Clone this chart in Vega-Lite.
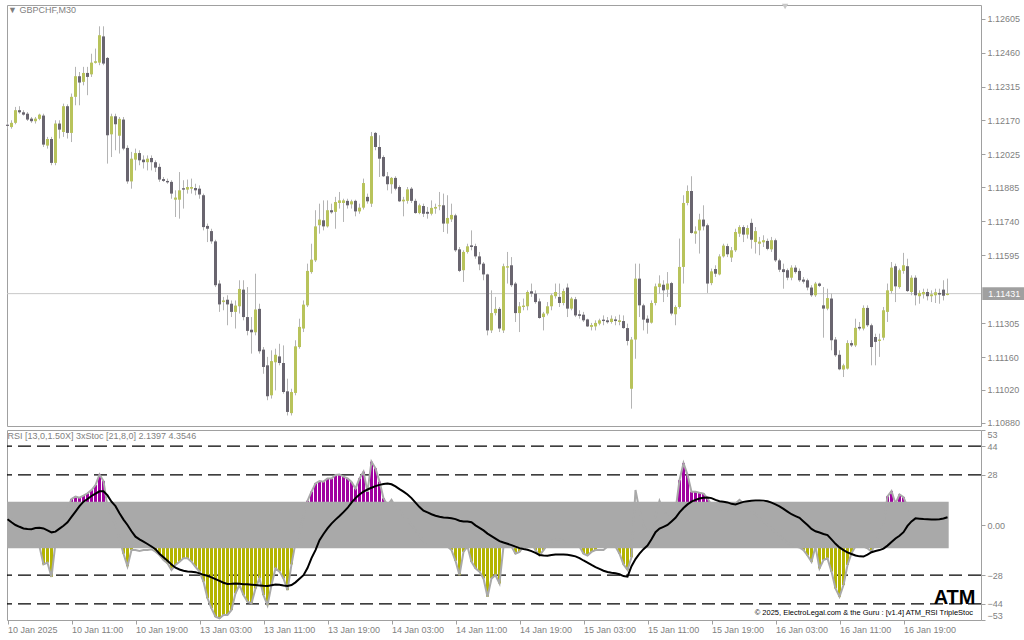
{
"$schema": "https://vega.github.io/schema/vega-lite/v6.json",
"background": "white",
"padding": {"left": 3, "top": 3, "right": 0, "bottom": 0},
"bounds": "flush",
"spacing": 4,
"config": {
  "view": {"stroke": "#a0a0a0", "strokeWidth": 1},
  "font": "Liberation Sans",
  "axis": {"labelFont": "Liberation Sans", "labelFontSize": 9, "labelColor": "#7f7f7f", "tickColor": "#a0a0a0", "tickSize": 4, "domain": false, "grid": false, "title": null, "labelPadding": 2, "labelOverlap": false, "labelSeparation": 0, "tickCount": 40},
  "title": {"font": "Liberation Sans", "fontSize": 9, "fontWeight": "normal", "color": "#7f7f7f", "anchor": "start", "orient": "top"}
},
"datasets": {"b": [
{"i":0,"o":1.12152,"h":1.12164,"l":1.12135,"c":1.12147,"r":5,"k":"n","s":3.2},
{"i":1,"o":1.12142,"h":1.12171,"l":1.12135,"c":1.12160,"r":3,"k":"n","s":1.5},
{"i":2,"o":1.12160,"h":1.12228,"l":1.12154,"c":1.12214,"r":0,"k":"n","s":0},
{"i":3,"o":1.12214,"h":1.12231,"l":1.12199,"c":1.12205,"r":-2,"k":"n","s":-1},
{"i":4,"o":1.12205,"h":1.12214,"l":1.12191,"c":1.12195,"r":-4,"k":"n","s":-1.9},
{"i":5,"o":1.12199,"h":1.12206,"l":1.12168,"c":1.12174,"r":-6,"k":"n","s":-2.2},
{"i":6,"o":1.12178,"h":1.12185,"l":1.12160,"c":1.12167,"r":-9,"k":"n","s":-2.4},
{"i":7,"o":1.12167,"h":1.12185,"l":1.12157,"c":1.12178,"r":-11,"k":"n","s":-1.7},
{"i":8,"o":1.12177,"h":1.12199,"l":1.12171,"c":1.12195,"r":-12,"k":"n","s":-1.6},
{"i":9,"o":1.12191,"h":1.12199,"l":1.12057,"c":1.12067,"r":-22,"k":"d","s":-1.9},
{"i":10,"o":1.12063,"h":1.12100,"l":1.12050,"c":1.12091,"r":-21,"k":"d","s":-3},
{"i":11,"o":1.12091,"h":1.12100,"l":1.11979,"c":1.11989,"r":-29,"k":"d","s":-4.1},
{"i":12,"o":1.11989,"h":1.12171,"l":1.11979,"c":1.12157,"r":-10,"k":"n","s":-3.7},
{"i":13,"o":1.12157,"h":1.12171,"l":1.12093,"c":1.12131,"r":-5,"k":"n","s":-2},
{"i":14,"o":1.12121,"h":1.12242,"l":1.12100,"c":1.12231,"r":2,"k":"n","s":-0.4},
{"i":15,"o":1.12231,"h":1.12239,"l":1.12093,"c":1.12117,"r":9,"k":"n","s":1.5},
{"i":16,"o":1.12117,"h":1.12285,"l":1.12078,"c":1.12271,"r":14.5,"k":"u","s":4.5},
{"i":17,"o":1.12271,"h":1.12399,"l":1.12235,"c":1.12359,"r":15.8,"k":"u","s":7.5},
{"i":18,"o":1.12359,"h":1.12377,"l":1.12235,"c":1.12332,"r":15.2,"k":"u","s":10.5},
{"i":19,"o":1.12335,"h":1.12399,"l":1.12320,"c":1.12373,"r":16.4,"k":"u","s":13},
{"i":20,"o":1.12373,"h":1.12399,"l":1.12278,"c":1.12356,"r":17.7,"k":"u","s":14.5},
{"i":21,"o":1.12367,"h":1.12455,"l":1.12356,"c":1.12417,"r":19.5,"k":"u","s":16.2},
{"i":22,"o":1.12416,"h":1.12477,"l":1.12413,"c":1.12423,"r":22.3,"k":"u","s":17.5},
{"i":23,"o":1.12417,"h":1.12572,"l":1.12406,"c":1.12534,"r":28.2,"k":"u","s":18.8},
{"i":24,"o":1.12529,"h":1.12572,"l":1.12406,"c":1.12413,"r":24.5,"k":"u","s":18.8},
{"i":25,"o":1.12437,"h":1.12441,"l":1.11986,"c":1.12107,"r":10,"k":"n","s":16.5},
{"i":26,"o":1.12111,"h":1.12199,"l":1.12014,"c":1.12188,"r":5,"k":"n","s":13},
{"i":27,"o":1.12188,"h":1.12199,"l":1.12043,"c":1.12154,"r":0,"k":"n","s":10.5},
{"i":28,"o":1.12105,"h":1.12185,"l":1.12029,"c":1.12177,"r":-8,"k":"n","s":6.5},
{"i":29,"o":1.12174,"h":1.12185,"l":1.12043,"c":1.12050,"r":-16,"k":"d","s":3},
{"i":30,"o":1.12053,"h":1.12064,"l":1.11900,"c":1.11910,"r":-23,"k":"d","s":0},
{"i":31,"o":1.11910,"h":1.12036,"l":1.11879,"c":1.12007,"r":-14,"k":"d","s":-3.5},
{"i":32,"o":1.12003,"h":1.12050,"l":1.11957,"c":1.12031,"r":-14,"k":"n","s":-6.5},
{"i":33,"o":1.12031,"h":1.12043,"l":1.11979,"c":1.12000,"r":-14.5,"k":"n","s":-8},
{"i":34,"o":1.12003,"h":1.12021,"l":1.11965,"c":1.11992,"r":-14,"k":"n","s":-9.3},
{"i":35,"o":1.11992,"h":1.12021,"l":1.11957,"c":1.12007,"r":-14,"k":"n","s":-10.6},
{"i":36,"o":1.12010,"h":1.12021,"l":1.11957,"c":1.11992,"r":-13.5,"k":"n","s":-12},
{"i":37,"o":1.11992,"h":1.12000,"l":1.11950,"c":1.11969,"r":-14.9,"k":"d","s":-13.5},
{"i":38,"o":1.11972,"h":1.11986,"l":1.11908,"c":1.11918,"r":-16.8,"k":"d","s":-16},
{"i":39,"o":1.11920,"h":1.11929,"l":1.11908,"c":1.11912,"r":-19.5,"k":"d","s":-18},
{"i":40,"o":1.11912,"h":1.11922,"l":1.11900,"c":1.11906,"r":-21.4,"k":"d","s":-20},
{"i":41,"o":1.11908,"h":1.11915,"l":1.11836,"c":1.11858,"r":-25.1,"k":"d","s":-22},
{"i":42,"o":1.11832,"h":1.11872,"l":1.11758,"c":1.11841,"r":-22.3,"k":"d","s":-23.8},
{"i":43,"o":1.11832,"h":1.11950,"l":1.11751,"c":1.11872,"r":-20.5,"k":"d","s":-24.8},
{"i":44,"o":1.11881,"h":1.11915,"l":1.11794,"c":1.11875,"r":-18.6,"k":"d","s":-25.5},
{"i":45,"o":1.11875,"h":1.11918,"l":1.11858,"c":1.11886,"r":-18.6,"k":"d","s":-25.9},
{"i":46,"o":1.11879,"h":1.11922,"l":1.11858,"c":1.11886,"r":-20.5,"k":"d","s":-26.1},
{"i":47,"o":1.11882,"h":1.11900,"l":1.11851,"c":1.11872,"r":-23.3,"k":"d","s":-26.3},
{"i":48,"o":1.11879,"h":1.11893,"l":1.11836,"c":1.11854,"r":-26,"k":"d","s":-27},
{"i":49,"o":1.11851,"h":1.11858,"l":1.11701,"c":1.11715,"r":-31.6,"k":"d","s":-27.8},
{"i":50,"o":1.11720,"h":1.11730,"l":1.11651,"c":1.11708,"r":-40.9,"k":"d","s":-28.3},
{"i":51,"o":1.11698,"h":1.11708,"l":1.11644,"c":1.11654,"r":-46.5,"k":"d","s":-29.2},
{"i":52,"o":1.11654,"h":1.11661,"l":1.11459,"c":1.11467,"r":-51.2,"k":"d","s":-30.2},
{"i":53,"o":1.11474,"h":1.11488,"l":1.11353,"c":1.11385,"r":-52.1,"k":"d","s":-31.2},
{"i":54,"o":1.11395,"h":1.11417,"l":1.11360,"c":1.11402,"r":-50.2,"k":"d","s":-32.2},
{"i":55,"o":1.11405,"h":1.11424,"l":1.11296,"c":1.11385,"r":-50.2,"k":"d","s":-32.9},
{"i":56,"o":1.11388,"h":1.11402,"l":1.11331,"c":1.11353,"r":-47.4,"k":"d","s":-32.8},
{"i":57,"o":1.11353,"h":1.11402,"l":1.11282,"c":1.11380,"r":-38.1,"k":"d","s":-32.6},
{"i":58,"o":1.11377,"h":1.11488,"l":1.11346,"c":1.11451,"r":-33.5,"k":"d","s":-32.8},
{"i":59,"o":1.11448,"h":1.11488,"l":1.11317,"c":1.11331,"r":-39.1,"k":"d","s":-33},
{"i":60,"o":1.11331,"h":1.11459,"l":1.11253,"c":1.11272,"r":-42.8,"k":"d","s":-33.1},
{"i":61,"o":1.11277,"h":1.11331,"l":1.11175,"c":1.11266,"r":-43.7,"k":"d","s":-33.3},
{"i":62,"o":1.11266,"h":1.11516,"l":1.11253,"c":1.11363,"r":-35.4,"k":"d","s":-33.5},
{"i":63,"o":1.11366,"h":1.11388,"l":1.11175,"c":1.11185,"r":-29.8,"k":"d","s":-33.7},
{"i":64,"o":1.11192,"h":1.11203,"l":1.11089,"c":1.11118,"r":-39.1,"k":"d","s":-33.9},
{"i":65,"o":1.11125,"h":1.11161,"l":1.10976,"c":1.10993,"r":-44.7,"k":"d","s":-34},
{"i":66,"o":1.10997,"h":1.11189,"l":1.10983,"c":1.11143,"r":-33.5,"k":"d","s":-33.6},
{"i":67,"o":1.11138,"h":1.11196,"l":1.11018,"c":1.11170,"r":-24.2,"k":"d","s":-33.2},
{"i":68,"o":1.11163,"h":1.11217,"l":1.11125,"c":1.11135,"r":-26,"k":"d","s":-33.3},
{"i":69,"o":1.11135,"h":1.11210,"l":1.11004,"c":1.11011,"r":-29.8,"k":"d","s":-33.7},
{"i":70,"o":1.11014,"h":1.11068,"l":1.10911,"c":1.10926,"r":-36.3,"k":"d","s":-34},
{"i":71,"o":1.10921,"h":1.11025,"l":1.10911,"c":1.11011,"r":-22,"k":"d","s":-33.5},
{"i":72,"o":1.11007,"h":1.11232,"l":1.10997,"c":1.11206,"r":-10,"k":"n","s":-32},
{"i":73,"o":1.11203,"h":1.11324,"l":1.11196,"c":1.11289,"r":-5,"k":"n","s":-30},
{"i":74,"o":1.11282,"h":1.11402,"l":1.11267,"c":1.11384,"r":5,"k":"n","s":-28},
{"i":75,"o":1.11381,"h":1.11559,"l":1.11374,"c":1.11528,"r":13.5,"k":"u","s":-24},
{"i":76,"o":1.11523,"h":1.11644,"l":1.11516,"c":1.11576,"r":18.6,"k":"u","s":-18.5},
{"i":77,"o":1.11573,"h":1.11787,"l":1.11566,"c":1.11718,"r":23.2,"k":"u","s":-14},
{"i":78,"o":1.11723,"h":1.11815,"l":1.11687,"c":1.11747,"r":24.5,"k":"u","s":-8.5},
{"i":79,"o":1.11744,"h":1.11829,"l":1.11701,"c":1.11718,"r":24.2,"k":"u","s":-5},
{"i":80,"o":1.11718,"h":1.11829,"l":1.11713,"c":1.11787,"r":26,"k":"u","s":-1.9},
{"i":81,"o":1.11787,"h":1.11815,"l":1.11772,"c":1.11778,"r":26,"k":"u","s":0.8},
{"i":82,"o":1.11780,"h":1.11844,"l":1.11708,"c":1.11822,"r":27.9,"k":"u","s":3},
{"i":83,"o":1.11818,"h":1.11865,"l":1.11794,"c":1.11829,"r":28.2,"k":"u","s":5},
{"i":84,"o":1.11818,"h":1.11836,"l":1.11737,"c":1.11829,"r":27,"k":"u","s":7.2},
{"i":85,"o":1.11827,"h":1.11836,"l":1.11794,"c":1.11808,"r":26,"k":"u","s":9.5},
{"i":86,"o":1.11812,"h":1.11832,"l":1.11794,"c":1.11825,"r":24,"k":"u","s":12.5},
{"i":87,"o":1.11827,"h":1.11832,"l":1.11761,"c":1.11782,"r":20.4,"k":"u","s":15},
{"i":88,"o":1.11782,"h":1.11815,"l":1.11772,"c":1.11798,"r":26,"k":"u","s":17},
{"i":89,"o":1.11798,"h":1.11922,"l":1.11790,"c":1.11903,"r":29.7,"k":"u","s":18.6},
{"i":90,"o":1.11844,"h":1.11858,"l":1.11815,"c":1.11825,"r":18.6,"k":"u","s":19.8},
{"i":91,"o":1.11815,"h":1.12121,"l":1.11801,"c":1.12103,"r":35.3,"k":"u","s":20.8},
{"i":92,"o":1.12117,"h":1.12121,"l":1.12043,"c":1.12057,"r":31.6,"k":"u","s":21.7},
{"i":93,"o":1.12057,"h":1.12107,"l":1.11929,"c":1.12007,"r":24.2,"k":"u","s":22.4},
{"i":94,"o":1.12014,"h":1.12021,"l":1.11929,"c":1.11932,"r":14.9,"k":"u","s":22.9},
{"i":95,"o":1.11932,"h":1.11950,"l":1.11872,"c":1.11898,"r":11,"k":"n","s":23.2},
{"i":96,"o":1.11898,"h":1.11929,"l":1.11858,"c":1.11925,"r":14,"k":"n","s":22.7},
{"i":97,"o":1.11925,"h":1.11932,"l":1.11872,"c":1.11879,"r":10,"k":"n","s":21.5},
{"i":98,"o":1.11886,"h":1.11893,"l":1.11822,"c":1.11825,"r":8,"k":"n","s":20},
{"i":99,"o":1.11825,"h":1.11844,"l":1.11761,"c":1.11832,"r":5,"k":"n","s":18.6},
{"i":100,"o":1.11827,"h":1.11886,"l":1.11815,"c":1.11876,"r":3,"k":"n","s":17},
{"i":101,"o":1.11879,"h":1.11886,"l":1.11818,"c":1.11827,"r":0,"k":"n","s":15},
{"i":102,"o":1.11827,"h":1.11836,"l":1.11772,"c":1.11775,"r":-3,"k":"n","s":12.5},
{"i":103,"o":1.11775,"h":1.11815,"l":1.11770,"c":1.11808,"r":-6,"k":"n","s":10},
{"i":104,"o":1.11805,"h":1.11815,"l":1.11758,"c":1.11772,"r":-9,"k":"n","s":8},
{"i":105,"o":1.11780,"h":1.11801,"l":1.11751,"c":1.11772,"r":-10,"k":"n","s":7},
{"i":106,"o":1.11772,"h":1.11829,"l":1.11765,"c":1.11797,"r":-10,"k":"n","s":6},
{"i":107,"o":1.11794,"h":1.11815,"l":1.11772,"c":1.11801,"r":-10,"k":"n","s":5.2},
{"i":108,"o":1.11804,"h":1.11865,"l":1.11787,"c":1.11808,"r":-10,"k":"n","s":4.6},
{"i":109,"o":1.11808,"h":1.11858,"l":1.11694,"c":1.11730,"r":-11,"k":"n","s":4.2},
{"i":110,"o":1.11730,"h":1.11851,"l":1.11687,"c":1.11754,"r":-12,"k":"n","s":4},
{"i":111,"o":1.11748,"h":1.11815,"l":1.11737,"c":1.11767,"r":-14,"k":"d","s":3.8},
{"i":112,"o":1.11765,"h":1.11772,"l":1.11609,"c":1.11616,"r":-20,"k":"d","s":3.3},
{"i":113,"o":1.11620,"h":1.11630,"l":1.11523,"c":1.11528,"r":-28,"k":"d","s":2.4},
{"i":114,"o":1.11531,"h":1.11616,"l":1.11481,"c":1.11609,"r":-15,"k":"d","s":2},
{"i":115,"o":1.11609,"h":1.11644,"l":1.11602,"c":1.11633,"r":-12,"k":"n","s":1.9},
{"i":116,"o":1.11637,"h":1.11701,"l":1.11616,"c":1.11630,"r":-20.5,"k":"d","s":1.5},
{"i":117,"o":1.11634,"h":1.11644,"l":1.11580,"c":1.11590,"r":-24.2,"k":"d","s":-0.2},
{"i":118,"o":1.11590,"h":1.11609,"l":1.11531,"c":1.11556,"r":-26,"k":"d","s":-1.6},
{"i":119,"o":1.11559,"h":1.11566,"l":1.11488,"c":1.11513,"r":-29.8,"k":"d","s":-3},
{"i":120,"o":1.11513,"h":1.11516,"l":1.11253,"c":1.11274,"r":-40,"k":"d","s":-4.8},
{"i":121,"o":1.11274,"h":1.11445,"l":1.11263,"c":1.11348,"r":-29.8,"k":"d","s":-6.2},
{"i":122,"o":1.11348,"h":1.11417,"l":1.11338,"c":1.11366,"r":-28,"k":"d","s":-7.6},
{"i":123,"o":1.11366,"h":1.11374,"l":1.11267,"c":1.11282,"r":-32.6,"k":"d","s":-9},
{"i":124,"o":1.11274,"h":1.11559,"l":1.11263,"c":1.11548,"r":-12,"k":"n","s":-9.8},
{"i":125,"o":1.11542,"h":1.11609,"l":1.11474,"c":1.11548,"r":-10,"k":"n","s":-10.5},
{"i":126,"o":1.11552,"h":1.11587,"l":1.11459,"c":1.11467,"r":-12,"k":"n","s":-11.2},
{"i":127,"o":1.11474,"h":1.11481,"l":1.11310,"c":1.11348,"r":-16,"k":"d","s":-12.1},
{"i":128,"o":1.11348,"h":1.11395,"l":1.11267,"c":1.11377,"r":-15,"k":"d","s":-12.9},
{"i":129,"o":1.11374,"h":1.11410,"l":1.11360,"c":1.11380,"r":-12,"k":"n","s":-13.4},
{"i":130,"o":1.11377,"h":1.11445,"l":1.11360,"c":1.11438,"r":-10,"k":"n","s":-13.8},
{"i":131,"o":1.11441,"h":1.11474,"l":1.11417,"c":1.11431,"r":-10,"k":"n","s":-14.6},
{"i":132,"o":1.11431,"h":1.11445,"l":1.11388,"c":1.11395,"r":-14,"k":"d","s":-15.6},
{"i":133,"o":1.11398,"h":1.11410,"l":1.11324,"c":1.11327,"r":-17,"k":"d","s":-16.7},
{"i":134,"o":1.11331,"h":1.11353,"l":1.11274,"c":1.11346,"r":-14,"k":"d","s":-17},
{"i":135,"o":1.11346,"h":1.11395,"l":1.11338,"c":1.11377,"r":-11,"k":"n","s":-17.1},
{"i":136,"o":1.11377,"h":1.11431,"l":1.11360,"c":1.11424,"r":-9,"k":"n","s":-16.8},
{"i":137,"o":1.11420,"h":1.11474,"l":1.11410,"c":1.11438,"r":-8,"k":"n","s":-16.5},
{"i":138,"o":1.11417,"h":1.11474,"l":1.11374,"c":1.11391,"r":-8,"k":"n","s":-16.4},
{"i":139,"o":1.11391,"h":1.11452,"l":1.11381,"c":1.11442,"r":-9,"k":"n","s":-16.4},
{"i":140,"o":1.11457,"h":1.11474,"l":1.11331,"c":1.11367,"r":-10,"k":"n","s":-16.6},
{"i":141,"o":1.11367,"h":1.11417,"l":1.11360,"c":1.11410,"r":-10,"k":"n","s":-17},
{"i":142,"o":1.11407,"h":1.11417,"l":1.11331,"c":1.11338,"r":-11,"k":"n","s":-17.5},
{"i":143,"o":1.11343,"h":1.11360,"l":1.11324,"c":1.11336,"r":-12,"k":"n","s":-18.5},
{"i":144,"o":1.11341,"h":1.11353,"l":1.11310,"c":1.11317,"r":-16,"k":"d","s":-19.8},
{"i":145,"o":1.11321,"h":1.11324,"l":1.11289,"c":1.11291,"r":-17,"k":"d","s":-21},
{"i":146,"o":1.11289,"h":1.11306,"l":1.11274,"c":1.11297,"r":-15,"k":"d","s":-22.3},
{"i":147,"o":1.11291,"h":1.11317,"l":1.11274,"c":1.11306,"r":-14,"k":"d","s":-23.5},
{"i":148,"o":1.11303,"h":1.11324,"l":1.11296,"c":1.11317,"r":-14,"k":"n","s":-24.5},
{"i":149,"o":1.11320,"h":1.11338,"l":1.11296,"c":1.11314,"r":-14,"k":"n","s":-25.5},
{"i":150,"o":1.11317,"h":1.11331,"l":1.11303,"c":1.11309,"r":-12,"k":"n","s":-26.2},
{"i":151,"o":1.11310,"h":1.11338,"l":1.11303,"c":1.11324,"r":-11,"k":"n","s":-26.6},
{"i":152,"o":1.11321,"h":1.11334,"l":1.11296,"c":1.11314,"r":-12,"k":"n","s":-26.9},
{"i":153,"o":1.11310,"h":1.11341,"l":1.11296,"c":1.11317,"r":-16,"k":"d","s":-27.5},
{"i":154,"o":1.11314,"h":1.11338,"l":1.11281,"c":1.11284,"r":-22,"k":"d","s":-28.5},
{"i":155,"o":1.11284,"h":1.11303,"l":1.11210,"c":1.11229,"r":-25,"k":"d","s":-28.8},
{"i":156,"o":1.11025,"h":1.11246,"l":1.10940,"c":1.11235,"r":-18,"k":"d","s":-23},
{"i":157,"o":1.11235,"h":1.11559,"l":1.11153,"c":1.11495,"r":19.5,"k":"n","s":-19},
{"i":158,"o":1.11495,"h":1.11559,"l":1.11331,"c":1.11381,"r":8,"k":"n","s":-16},
{"i":159,"o":1.11381,"h":1.11388,"l":1.11274,"c":1.11320,"r":0,"k":"n","s":-13.5},
{"i":160,"o":1.11324,"h":1.11338,"l":1.11260,"c":1.11307,"r":-5,"k":"n","s":-11.5},
{"i":161,"o":1.11307,"h":1.11402,"l":1.11303,"c":1.11391,"r":-2,"k":"n","s":-8},
{"i":162,"o":1.11391,"h":1.11474,"l":1.11381,"c":1.11462,"r":5,"k":"n","s":-4},
{"i":163,"o":1.11459,"h":1.11509,"l":1.11431,"c":1.11474,"r":13.4,"k":"n","s":-2},
{"i":164,"o":1.11469,"h":1.11488,"l":1.11395,"c":1.11445,"r":8,"k":"n","s":-1},
{"i":165,"o":1.11448,"h":1.11523,"l":1.11417,"c":1.11474,"r":5,"k":"n","s":0},
{"i":166,"o":1.11476,"h":1.11481,"l":1.11338,"c":1.11346,"r":3,"k":"n","s":2},
{"i":167,"o":1.11343,"h":1.11381,"l":1.11296,"c":1.11374,"r":8,"k":"n","s":4},
{"i":168,"o":1.11374,"h":1.11666,"l":1.11367,"c":1.11545,"r":25,"k":"u","s":7},
{"i":169,"o":1.11545,"h":1.11851,"l":1.11474,"c":1.11818,"r":34.5,"k":"u","s":9.5},
{"i":170,"o":1.11818,"h":1.11893,"l":1.11808,"c":1.11869,"r":28,"k":"u","s":11.5},
{"i":171,"o":1.11869,"h":1.11932,"l":1.11687,"c":1.11690,"r":18.6,"k":"u","s":13},
{"i":172,"o":1.11687,"h":1.11718,"l":1.11644,"c":1.11697,"r":18.6,"k":"u","s":14},
{"i":173,"o":1.11701,"h":1.11772,"l":1.11602,"c":1.11747,"r":18,"k":"u","s":14.8},
{"i":174,"o":1.11747,"h":1.11808,"l":1.11701,"c":1.11718,"r":17.5,"k":"u","s":15.2},
{"i":175,"o":1.11723,"h":1.11730,"l":1.11434,"c":1.11474,"r":14.9,"k":"u","s":15.3},
{"i":176,"o":1.11476,"h":1.11538,"l":1.11467,"c":1.11526,"r":11,"k":"n","s":15},
{"i":177,"o":1.11536,"h":1.11552,"l":1.11502,"c":1.11516,"r":10,"k":"n","s":14},
{"i":178,"o":1.11513,"h":1.11599,"l":1.11509,"c":1.11590,"r":9,"k":"n","s":13.3},
{"i":179,"o":1.11590,"h":1.11644,"l":1.11585,"c":1.11636,"r":8,"k":"n","s":13},
{"i":180,"o":1.11634,"h":1.11644,"l":1.11587,"c":1.11599,"r":8,"k":"n","s":12.6},
{"i":181,"o":1.11585,"h":1.11630,"l":1.11566,"c":1.11616,"r":10,"k":"n","s":11.8},
{"i":182,"o":1.11616,"h":1.11708,"l":1.11609,"c":1.11694,"r":12,"k":"n","s":11.5},
{"i":183,"o":1.11687,"h":1.11723,"l":1.11673,"c":1.11715,"r":14,"k":"n","s":12.2},
{"i":184,"o":1.11715,"h":1.11723,"l":1.11651,"c":1.11683,"r":12,"k":"n","s":12.9},
{"i":185,"o":1.11683,"h":1.11723,"l":1.11666,"c":1.11711,"r":10,"k":"n","s":13.2},
{"i":186,"o":1.11733,"h":1.11751,"l":1.11623,"c":1.11661,"r":8,"k":"n","s":13.5},
{"i":187,"o":1.11651,"h":1.11715,"l":1.11602,"c":1.11698,"r":6,"k":"n","s":13.6},
{"i":188,"o":1.11644,"h":1.11673,"l":1.11595,"c":1.11653,"r":4,"k":"n","s":13.7},
{"i":189,"o":1.11650,"h":1.11680,"l":1.11630,"c":1.11659,"r":2,"k":"n","s":13.6},
{"i":190,"o":1.11656,"h":1.11666,"l":1.11616,"c":1.11622,"r":0,"k":"n","s":13.2},
{"i":191,"o":1.11620,"h":1.11673,"l":1.11609,"c":1.11659,"r":-2,"k":"n","s":12.5},
{"i":192,"o":1.11659,"h":1.11666,"l":1.11566,"c":1.11573,"r":-4,"k":"n","s":11.5},
{"i":193,"o":1.11573,"h":1.11580,"l":1.11523,"c":1.11533,"r":-6,"k":"n","s":10.4},
{"i":194,"o":1.11535,"h":1.11559,"l":1.11452,"c":1.11523,"r":-8,"k":"n","s":9},
{"i":195,"o":1.11531,"h":1.11538,"l":1.11488,"c":1.11499,"r":-10,"k":"n","s":7.5},
{"i":196,"o":1.11499,"h":1.11552,"l":1.11488,"c":1.11542,"r":-11,"k":"n","s":6},
{"i":197,"o":1.11542,"h":1.11552,"l":1.11516,"c":1.11523,"r":-12,"k":"n","s":5},
{"i":198,"o":1.11528,"h":1.11538,"l":1.11481,"c":1.11488,"r":-12.5,"k":"n","s":4},
{"i":199,"o":1.11491,"h":1.11502,"l":1.11474,"c":1.11482,"r":-14,"k":"d","s":2},
{"i":200,"o":1.11488,"h":1.11495,"l":1.11445,"c":1.11457,"r":-17,"k":"d","s":0},
{"i":201,"o":1.11457,"h":1.11467,"l":1.11417,"c":1.11424,"r":-20.5,"k":"d","s":-2.2},
{"i":202,"o":1.11424,"h":1.11481,"l":1.11417,"c":1.11474,"r":-12,"k":"n","s":-3.5},
{"i":203,"o":1.11474,"h":1.11478,"l":1.11459,"c":1.11464,"r":-24.2,"k":"d","s":-4.2},
{"i":204,"o":1.11381,"h":1.11459,"l":1.11243,"c":1.11367,"r":-19.5,"k":"d","s":-5},
{"i":205,"o":1.11367,"h":1.11452,"l":1.11360,"c":1.11412,"r":-18.6,"k":"d","s":-5.6},
{"i":206,"o":1.11410,"h":1.11431,"l":1.11189,"c":1.11232,"r":-26,"k":"d","s":-8},
{"i":207,"o":1.11235,"h":1.11246,"l":1.11161,"c":1.11168,"r":-35.4,"k":"d","s":-10.5},
{"i":208,"o":1.11170,"h":1.11189,"l":1.11104,"c":1.11108,"r":-40,"k":"d","s":-12.5},
{"i":209,"o":1.11107,"h":1.11132,"l":1.11075,"c":1.11125,"r":-33.5,"k":"d","s":-14},
{"i":210,"o":1.11111,"h":1.11232,"l":1.11107,"c":1.11220,"r":-22.3,"k":"d","s":-15.3},
{"i":211,"o":1.11220,"h":1.11232,"l":1.11203,"c":1.11210,"r":-15.8,"k":"d","s":-16.2},
{"i":212,"o":1.11210,"h":1.11324,"l":1.11203,"c":1.11285,"r":-12,"k":"n","s":-17},
{"i":213,"o":1.11289,"h":1.11310,"l":1.11274,"c":1.11282,"r":-11,"k":"n","s":-17.5},
{"i":214,"o":1.11282,"h":1.11381,"l":1.11274,"c":1.11370,"r":-12,"k":"n","s":-17.6},
{"i":215,"o":1.11370,"h":1.11381,"l":1.11289,"c":1.11296,"r":-13,"k":"n","s":-16.5},
{"i":216,"o":1.11296,"h":1.11303,"l":1.11125,"c":1.11203,"r":-15,"k":"d","s":-15.2},
{"i":217,"o":1.11246,"h":1.11260,"l":1.11125,"c":1.11225,"r":-10,"k":"n","s":-14.5},
{"i":218,"o":1.11229,"h":1.11260,"l":1.11161,"c":1.11235,"r":-5,"k":"n","s":-14},
{"i":219,"o":1.11243,"h":1.11374,"l":1.11232,"c":1.11360,"r":0,"k":"n","s":-13.2},
{"i":220,"o":1.11353,"h":1.11474,"l":1.11310,"c":1.11445,"r":16,"k":"u","s":-11.5},
{"i":221,"o":1.11442,"h":1.11566,"l":1.11431,"c":1.11542,"r":18.9,"k":"u","s":-9.5},
{"i":222,"o":1.11548,"h":1.11559,"l":1.11395,"c":1.11462,"r":12,"k":"n","s":-7.5},
{"i":223,"o":1.11459,"h":1.11538,"l":1.11452,"c":1.11531,"r":17,"k":"u","s":-6},
{"i":224,"o":1.11528,"h":1.11605,"l":1.11516,"c":1.11552,"r":15.5,"k":"u","s":-4},
{"i":225,"o":1.11548,"h":1.11580,"l":1.11438,"c":1.11442,"r":10,"k":"n","s":-0.5},
{"i":226,"o":1.11438,"h":1.11509,"l":1.11424,"c":1.11499,"r":6,"k":"n","s":2},
{"i":227,"o":1.11499,"h":1.11509,"l":1.11381,"c":1.11424,"r":4,"k":"n","s":3.7},
{"i":228,"o":1.11420,"h":1.11445,"l":1.11388,"c":1.11434,"r":4,"k":"n","s":3.5},
{"i":229,"o":1.11428,"h":1.11452,"l":1.11410,"c":1.11438,"r":3,"k":"n","s":3.3},
{"i":230,"o":1.11438,"h":1.11452,"l":1.11402,"c":1.11420,"r":3,"k":"n","s":3.2},
{"i":231,"o":1.11420,"h":1.11445,"l":1.11395,"c":1.11428,"r":3,"k":"n","s":3.1},
{"i":232,"o":1.11424,"h":1.11452,"l":1.11391,"c":1.11437,"r":3,"k":"n","s":3.1},
{"i":233,"o":1.11434,"h":1.11452,"l":1.11388,"c":1.11427,"r":3,"k":"n","s":3.2},
{"i":234,"o":1.11448,"h":1.11488,"l":1.11402,"c":1.11422,"r":4,"k":"n","s":3.6},
{"i":235,"o":1.11425,"h":1.11495,"l":1.11424,"c":1.11431,"r":4,"k":"n","s":4.3}
]},
"vconcat": [
{
  "width": 974, "height": 421,
  "title": {"text": "▼ GBPCHF,M30", "offset": -11, "dx": 2},
  "data": {"name": "b"},
  "layer": [
    {"data": {"values": [{"p": 1.11431}]},
     "mark": {"type": "rule", "color": "#c8c8c8", "strokeWidth": 1},
     "encoding": {"y": {"field": "p", "type": "quantitative",
        "scale": {"domain": [1.10866, 1.12663], "nice": false, "zero": false},
        "axis": {"orient": "right", "values": [1.12605, 1.1246, 1.12315, 1.1217, 1.12025, 1.11885, 1.1174, 1.11595, 1.11305, 1.1116, 1.1102, 1.1088], "format": ".5f", "labelOverlap": false, "tickCount": 40}}}},
    {"mark": {"type": "rule", "color": "#b4b4b4", "strokeWidth": 1},
     "encoding": {
       "x": {"field": "i", "type": "quantitative", "scale": {"domain": [-0.125, 243.375], "nice": false, "zero": false, "padding": 0}, "axis": null},
       "y": {"field": "l", "type": "quantitative"},
       "y2": {"field": "h"}}},
    {"mark": {"type": "bar", "size": 3},
     "encoding": {
       "x": {"field": "i", "type": "quantitative"},
       "y": {"field": "o", "type": "quantitative"},
       "y2": {"field": "c"},
       "color": {"condition": {"test": "datum.c >= datum.o", "value": "#b8c35b"}, "value": "#69656f"}}},
    {"data": {"values": [{}]},
     "mark": {"type": "point", "shape": "triangle-down", "filled": true, "size": 40, "color": "#c8c8c8", "opacity": 1},
     "encoding": {"x": {"datum": 194.4, "type": "quantitative"}, "y": {"datum": 1.12657, "type": "quantitative"}}},
    {"data": {"values": [{}]},
     "mark": {"type": "rect", "color": "#a0a0a0"},
     "encoding": {"x": {"datum": 243.7, "type": "quantitative"}, "x2": {"datum": 254.6},
                  "y": {"datum": 1.11404, "type": "quantitative"}, "y2": {"datum": 1.11458}}},
    {"data": {"values": [{}]},
     "mark": {"type": "text", "text": "1.11431", "color": "white", "fontSize": 9, "font": "Liberation Sans", "align": "center", "baseline": "middle"},
     "encoding": {"x": {"datum": 249.2, "type": "quantitative"}, "y": {"datum": 1.11431, "type": "quantitative"}}}
  ]
},
{
  "width": 974, "height": 190,
  "title": {"text": "RSI [13,0,1.50X] 3xStoc [21,8,0] 2.1397 4.3546", "offset": -11, "dx": 4},
  "data": {"name": "b"},
  "layer": [
    {"data": {"values": [{"lv": 44}, {"lv": 28}, {"lv": -28}, {"lv": -44}]},
     "mark": {"type": "rule", "color": "black", "strokeDash": [13, 6], "strokeWidth": 1.2},
     "encoding": {"y": {"field": "lv", "type": "quantitative",
        "scale": {"domain": [-53, 53], "nice": false, "zero": false},
        "axis": {"orient": "right", "values": [53, 44, 28, 0, -28, -44, -53], "labelExpr": "datum.value == 0 ? '0.00' : format(datum.value, 'd')", "labelFlush": true, "labelOverlap": false, "tickCount": 40}}}},
    {"transform": [{"filter": "datum.k == 'u'"}],
     "mark": {"type": "bar", "size": 3, "color": "#a000a0"},
     "encoding": {
       "x": {"field": "i", "type": "quantitative", "scale": {"domain": [-0.125, 243.375], "nice": false, "zero": false, "padding": 0},
             "axis": {"orient": "bottom", "values": [0, 16, 32, 48, 64, 80, 96, 112, 128, 144, 160, 176, 192, 208, 224],
                      "labelExpr": "['10 Jan 2025','10 Jan 11:00','10 Jan 19:00','13 Jan 03:00','13 Jan 11:00','13 Jan 19:00','14 Jan 03:00','14 Jan 11:00','14 Jan 19:00','15 Jan 03:00','15 Jan 11:00','15 Jan 19:00','16 Jan 03:00','16 Jan 11:00','16 Jan 19:00'][round(datum.value / 16)]",
                      "labelAlign": "left", "labelFlush": false, "labelOverlap": false, "labelPadding": 1, "labelBaseline": "top", "tickCount": 40}},
       "y": {"field": "r", "type": "quantitative"},
       "y2": {"datum": 0}}},
    {"transform": [{"filter": "datum.k == 'd'"}],
     "mark": {"type": "bar", "size": 3, "color": "#b4b400"},
     "encoding": {
       "x": {"field": "i", "type": "quantitative"},
       "y": {"field": "r", "type": "quantitative"},
       "y2": {"datum": 0}}},
    {"data": {"values": [{}]},
     "mark": {"type": "rect", "color": "#a9a9a9"},
     "encoding": {"x": {"datum": -0.125, "type": "quantitative"}, "x2": {"datum": 235.3},
                  "y": {"datum": 13, "type": "quantitative"}, "y2": {"datum": -13}}},
    {"mark": {"type": "line", "color": "#a9a9a9", "strokeWidth": 2},
     "encoding": {"x": {"field": "i", "type": "quantitative"}, "y": {"field": "r", "type": "quantitative"}}},
    {"mark": {"type": "line", "color": "black", "strokeWidth": 2},
     "encoding": {"x": {"field": "i", "type": "quantitative"}, "y": {"field": "s", "type": "quantitative"}}},
    {"data": {"values": [{}]},
     "mark": {"type": "text", "text": "ATM", "fontSize": 20, "fontWeight": "bold", "font": "Liberation Sans", "align": "right", "baseline": "middle", "color": "black"},
     "encoding": {"x": {"datum": 242.0, "type": "quantitative"}, "y": {"datum": -40.7, "type": "quantitative"}}},
    {"data": {"values": [{}]},
     "mark": {"type": "text", "text": "© 2025, ElectroLegal.com & the Guru : [v1.4] ATM_RSI TripleStoc", "fontSize": 7.5, "font": "Liberation Sans", "align": "right", "baseline": "middle", "color": "black"},
     "encoding": {"x": {"datum": 241.4, "type": "quantitative"}, "y": {"datum": -49.1, "type": "quantitative"}}}
  ]
}
]
}
